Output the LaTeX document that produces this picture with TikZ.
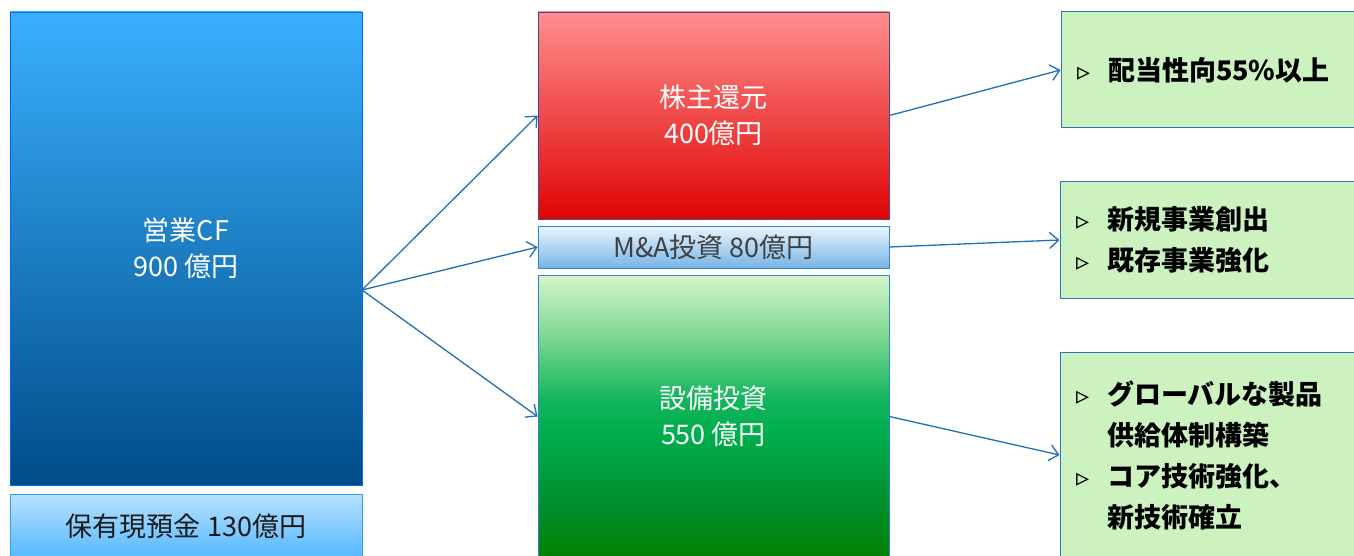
\documentclass[tikz,border=0pt]{standalone}
\usepackage{fontspec}
\setmainfont{Noto Sans CJK JP}
\newfontfamily\symfont{DejaVu Sans}
\usetikzlibrary{arrows.meta}
\definecolor{arrowblue}{HTML}{1F70B8}
\definecolor{boxgreen}{HTML}{CCF2C0}
\definecolor{boxline}{HTML}{2E75B6}
\definecolor{capexA}{HTML}{008000}
\definecolor{capexB}{HTML}{009030}
\definecolor{capexC}{HTML}{00AE4C}
\definecolor{capexD}{HTML}{12B55C}
\definecolor{capexE}{HTML}{86DA98}
\definecolor{capexF}{HTML}{D3F5CB}
\pgfdeclareverticalshading{capexshade}{100bp}{%
  color(0bp)=(capexA); color(25bp)=(capexA); color(35bp)=(capexB);
  color(47bp)=(capexC); color(53bp)=(capexD); color(65bp)=(capexE);
  color(75bp)=(capexF); color(100bp)=(capexF)}
\newcommand{\itm}{\makebox[31pt][l]{\symfont\fontsize{26}{26}\selectfont ▹}}
\newcommand{\itmpad}{\makebox[31pt]{}}
\begin{document}
\begin{tikzpicture}[x=1pt,y=-1pt,
    box/.style={rectangle, draw, line width=0.8pt, align=center, text=white,
      font=\fontsize{27}{36}\selectfont, inner sep=0pt},
    goal/.style={rectangle, draw=boxline, fill=boxgreen, line width=1pt, align=left,
      text width=264pt, inner xsep=16pt, inner ysep=0pt,
      font=\bfseries\fontsize{27}{41}\selectfont},
    flow/.style={draw=arrowblue, line width=1.3pt, -{Straight Barb[length=9pt,width=16pt]}}]
  \clip (0,0) rectangle (1354,556);
  \fill[white] (0,0) rectangle (1354,556);

  % left side
  \node[box, draw=blue!60!cyan, top color={rgb,255:red,58;green,176;blue,255},
    middle color={rgb,255:red,8;green,118;blue,202}, bottom color={rgb,255:red,0;green,76;blue,136},
    minimum width=352pt, minimum height=473pt] (cf) at (186,248.5) {営業CF\\900 億円};
  \node[box, draw={rgb,255:red,47;green,156;blue,245}, text={rgb,255:red,26;green,26;blue,26},
    top color={rgb,255:red,184;green,226;blue,255}, bottom color={rgb,255:red,85;green,184;blue,255},
    minimum width=352pt, minimum height=64pt] (cash) at (186,526) {保有現預金 130億円};
  \coordinate (cfout) at (362,290);

  % middle
  \node[box, draw={rgb,255:red,80;green,70;blue,130}, top color={rgb,255:red,255;green,142;blue,142},
    middle color={rgb,255:red,252;green,72;blue,72}, bottom color={rgb,255:red,224;green,4;blue,4},
    minimum width=351pt, minimum height=207pt] (ret) at (713.5,115.5) {株主還元\\400億円};
  \node[box, draw={rgb,255:red,46;green,134;blue,204}, text={rgb,255:red,64;green,64;blue,64},
    top color={rgb,255:red,236;green,245;blue,252}, middle color={rgb,255:red,220;green,236;blue,249},
    bottom color={rgb,255:red,118;green,180;blue,230},
    minimum width=351pt, minimum height=42pt] (ma) at (713.5,247) {M\&A投資 80億円};
  \node[box, draw={rgb,255:red,46;green,134;blue,204}, shading=capexshade,
    minimum width=351pt, minimum height=283pt] (capex) at (713.5,416.5) {設備投資\\550 億円};

  % right
  \node[goal, minimum height=116pt] (g1) at (1209,70) {\itm 配当性向55\%以上};
  \node[goal, minimum height=116pt] (g2) at (1208,240) {\itm 新規事業創出\\\itm 既存事業強化};
  \node[goal, minimum height=206pt] (g3) at (1208,455)
    {\itm グローバルな製品\\\itmpad 供給体制構築\\\itm コア技術強化、\\\itmpad 新技術確立};

  \draw[flow] (cfout) -- (ret.west);
  \draw[flow] (cfout) -- (ma.west);
  \draw[flow] (cfout) -- (capex.west);
  \draw[flow] (ret.east) -- (g1.west);
  \draw[flow] (ma.east) -- (g2.west);
  \draw[flow] (capex.east) -- (g3.west);
\end{tikzpicture}
\end{document}
